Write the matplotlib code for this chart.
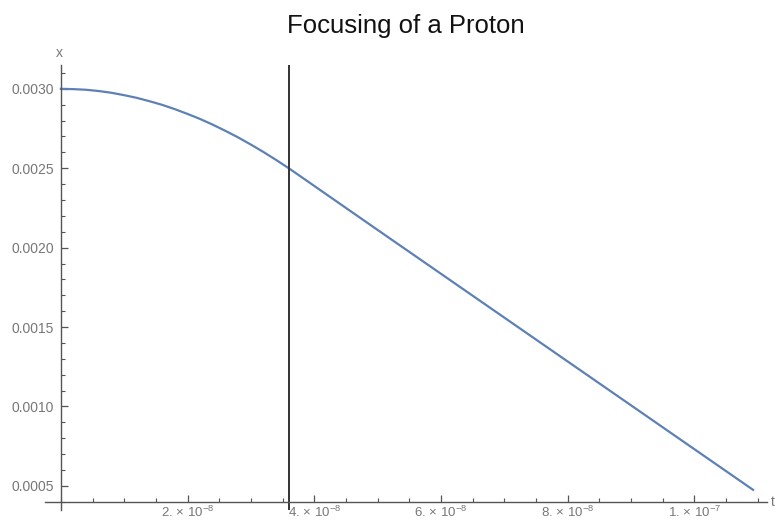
import matplotlib
matplotlib.use("Agg")
import matplotlib.pyplot as plt
from matplotlib.ticker import MultipleLocator, FixedLocator

plt.rcParams['font.family'] = ['Liberation Sans', 'DejaVu Sans']
plt.rcParams['mathtext.default'] = 'regular'

# data
t_vals = [0.0, 0.2e-8, 0.4e-8, 0.6e-8, 0.8e-8, 1.0e-8, 1.2e-8, 1.4e-8, 1.6e-8, 1.8e-8,
          2.0e-8, 2.2e-8, 2.4e-8, 2.6e-8, 2.8e-8, 3.0e-8, 3.2e-8, 3.4e-8, 3.61e-8,
          5.0e-8, 7.0e-8, 9.0e-8, 1.093e-7]
x_vals = [0.003000, 0.002998, 0.002994, 0.002986, 0.002975, 0.002960, 0.002943, 0.002922,
          0.002899, 0.002872, 0.002842, 0.002810, 0.002774, 0.002735, 0.002694, 0.002649,
          0.002602, 0.002552, 0.002497, 0.002112, 0.001560, 0.001008, 0.000475]
lens_t = 3.61e-8
y_ticks = [0.0005, 0.0010, 0.0015, 0.0020, 0.0025, 0.0030]
y_tick_labels = ["0.0005", "0.0010", "0.0015", "0.0020", "0.0025", "0.0030"]
x_ticks = [2e-8, 4e-8, 6e-8, 8e-8, 1e-7]
x_tick_labels = [r"2. × 10$^{-8}$", r"4. × 10$^{-8}$", r"6. × 10$^{-8}$",
                 r"8. × 10$^{-8}$", r"1. × 10$^{-7}$"]
title = "Focusing of a Proton"

W, H = 777, 525
fig = plt.figure(figsize=(W / 100, H / 100), dpi=100)
left, right, bottom, top = 45, 767, 510, 65
ax = fig.add_axes([left / W, 1 - bottom / H, (right - left) / W, (bottom - top) / H])

ax.set_xlim(-0.25e-8, 1.115e-7)
ax.set_ylim(0.000348, 0.00315)

ax.plot(t_vals, x_vals, color='#5E81B5', lw=1.6, solid_joinstyle='round')
ax.axvline(lens_t, color='#333333', lw=1.4)

axis_col = '#555555'
for s in ['top', 'right']:
    ax.spines[s].set_visible(False)
ax.spines['left'].set_position(('data', 0))
ax.spines['bottom'].set_position(('data', 0.0004))
ax.spines['left'].set_color(axis_col)
ax.spines['bottom'].set_color(axis_col)
ax.spines['left'].set_linewidth(1.0)
ax.spines['bottom'].set_linewidth(1.0)

ax.yaxis.set_major_locator(FixedLocator(y_ticks))
ax.set_yticklabels(y_tick_labels)
ax.yaxis.set_minor_locator(MultipleLocator(0.0001))
ax.xaxis.set_major_locator(FixedLocator(x_ticks))
ax.set_xticklabels(x_tick_labels)
ax.xaxis.set_minor_locator(MultipleLocator(0.5e-8))

ax.tick_params(axis='both', which='major', direction='in', length=5, width=0.9,
               color=axis_col, labelcolor='#777777', labelsize=10, pad=5)
ax.tick_params(axis='both', which='minor', direction='in', length=3, width=0.8,
               color=axis_col)
ax.tick_params(axis='x', which='major', pad=2.5, labelsize=9.5)

ax.text(-0.03e-8, 0.00318, "x", color='#777777', fontsize=10, ha='center', va='bottom',
        clip_on=False)
ax.text(1.121e-7, 0.0004, "t", color='#777777', fontsize=10, ha='left', va='center',
        clip_on=False)

fig.text(406 / W, 1 - 26 / H, title, fontsize=18.5, ha='center', va='center', color='#111111')

fig.savefig("out.png", dpi=100, facecolor='white')
